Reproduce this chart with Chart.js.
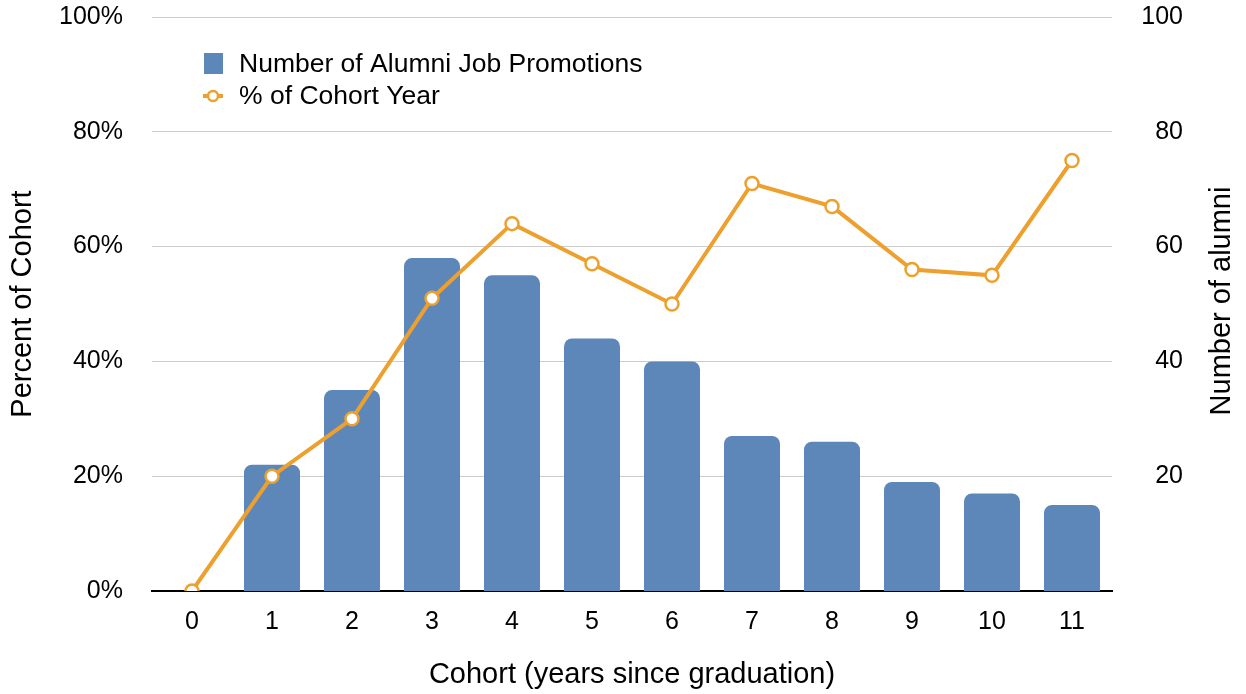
<!DOCTYPE html>
<html>
<head>
<meta charset="utf-8">
<title>Alumni Job Promotions by Cohort</title>
<script src="https://cdn.jsdelivr.net/npm/chart.js@4"></script>
<style>
    body { margin: 0; background: #fff; }
    #wrap { width: 1246px; height: 694px; position: relative; }
</style>
</head>
<body>
<div id="wrap"><canvas id="promoChart"></canvas></div>
<script>
// datos del gráfico
const cohorts = ['0', '1', '2', '3', '4', '5', '6', '7', '8', '9', '10', '11'];
const alumniPromotions = [null, 22, 35, 58, 55, 44, 40, 27, 26, 19, 17, 15]; // eje derecho
const cohortPercent = [0, 20, 30, 51, 64, 57, 50, 71, 67, 56, 55, 75];       // eje izquierdo (%)
const leftTicks = [0, 20, 40, 60, 80, 100];
const rightTicks = [20, 40, 60, 80, 100];

const FONT = '"Liberation Sans", Arial, Helvetica, sans-serif';
const BAR_COLOR = '#5E87B9';
const LINE_COLOR = '#EEA02E';

// títulos de ejes y leyenda dibujados a mano (la leyenda va dentro del área)
const extrasPlugin = {
    id: 'extras',
    afterDraw(chart) {
        const c = chart.ctx;
        const area = chart.chartArea;
        c.save();
        c.fillStyle = '#000';

        // titulo eje X
        c.font = '29px ' + FONT;
        c.textAlign = 'center';
        c.textBaseline = 'alphabetic';
        c.fillText('Cohort (years since graduation)', (area.left + area.right) / 2, 683);

        // titulos verticales (ambos leen de abajo hacia arriba)
        c.save();
        c.translate(31, 304);
        c.rotate(-Math.PI / 2);
        c.fillText('Percent of Cohort', 0, 0);
        c.restore();

        c.save();
        c.translate(1230, 301);
        c.rotate(-Math.PI / 2);
        c.fillText('Number of alumni', 0, 0);
        c.restore();

        // leyenda
        c.font = '26.5px ' + FONT;
        c.textAlign = 'left';
        c.fillStyle = BAR_COLOR;
        c.fillRect(204, 53, 19, 21);
        c.fillStyle = '#000';
        c.fillText(chart.data.datasets[1].label, 239, 72);

        c.strokeStyle = LINE_COLOR;
        c.lineWidth = 4;
        c.beginPath();
        c.moveTo(203, 96);
        c.lineTo(223, 96);
        c.stroke();
        c.beginPath();
        c.arc(213, 96, 5, 0, Math.PI * 2);
        c.fillStyle = '#fff';
        c.fill();
        c.lineWidth = 2.5;
        c.stroke();
        c.fillStyle = '#000';
        c.fillText(chart.data.datasets[0].label, 239, 104);

        c.restore();
    }
};

const noPad = scale => { scale.paddingTop = 0; scale.paddingBottom = 0; };

const ctx = document.getElementById('promoChart').getContext('2d');

new Chart(ctx, {
    data: {
        labels: cohorts,
        datasets: [{
            type: 'line',
            label: '% of Cohort Year',
            data: cohortPercent,
            yAxisID: 'y',
            borderColor: LINE_COLOR,
            borderWidth: 4,
            pointRadius: 6.5,
            pointBorderWidth: 2.5,
            pointBackgroundColor: '#fff',
            pointBorderColor: LINE_COLOR,
            tension: 0,
            order: 0
        }, {
            type: 'bar',
            label: 'Number of Alumni Job Promotions',
            data: alumniPromotions,
            yAxisID: 'y1',
            backgroundColor: BAR_COLOR,
            borderRadius: 8,
            borderSkipped: 'start',
            barPercentage: 0.7,
            categoryPercentage: 1.0,
            order: 1
        }]
    },
    options: {
        responsive: true,
        maintainAspectRatio: false,
        animation: false,
        layout: { padding: { top: 17, right: 63, bottom: 0, left: 0 } },
        plugins: {
            legend: { display: false },
            tooltip: { enabled: false }
        },
        scales: {
            x: {
                offset: true,
                grid: { display: false },
                border: { display: true, color: '#000', width: 2 },
                ticks: { color: '#000', font: { family: FONT, size: 25 }, padding: 8 },
                afterFit(scale) { scale.height = 103; }
            },
            y: {
                position: 'left',
                min: 0,
                max: 100,
                afterBuildTicks(scale) { scale.ticks = leftTicks.map(v => ({ value: v })); },
                grid: {
                    drawTicks: false,
                    color: c => c.tick && c.tick.value === 0 ? 'rgba(0,0,0,0)' : '#CCCCCC',
                    lineWidth: 1
                },
                border: { display: false },
                ticks: {
                    color: '#000',
                    font: { family: FONT, size: 25 },
                    padding: 29,
                    callback: v => v + '%'
                },
                afterFit(scale) { scale.width = 152; noPad(scale); }
            },
            y1: {
                position: 'right',
                min: 0,
                max: 100,
                afterBuildTicks(scale) { scale.ticks = rightTicks.map(v => ({ value: v })); },
                grid: { display: false, drawTicks: false },
                border: { display: false },
                ticks: {
                    color: '#000',
                    font: { family: FONT, size: 25 },
                    crossAlign: 'far',
                    padding: 10
                },
                afterFit(scale) { scale.width = 71; noPad(scale); }
            }
        }
    },
    plugins: [extrasPlugin]
});
</script>
</body>
</html>
